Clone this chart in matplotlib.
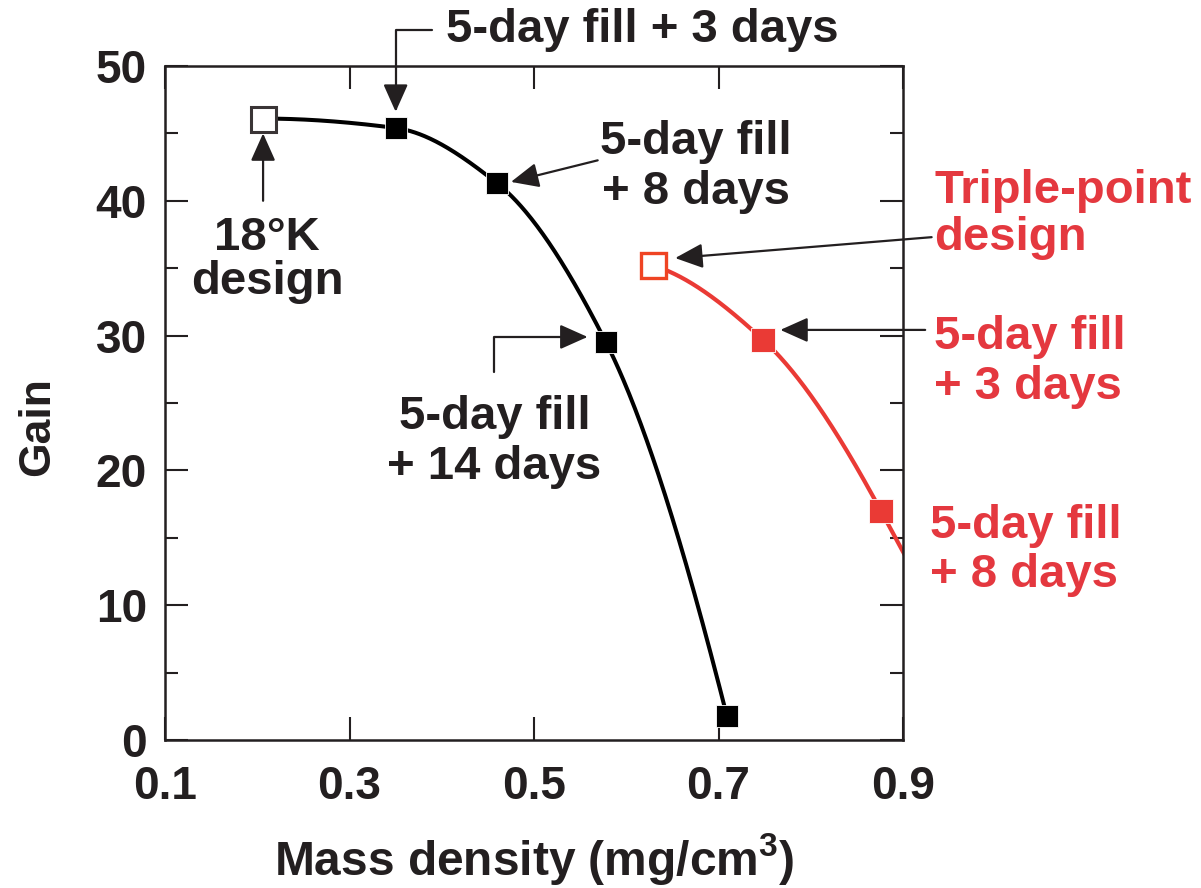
import numpy as np
import matplotlib
matplotlib.use("Agg")
import matplotlib.pyplot as plt

plt.rcParams["font.family"] = ["Liberation Sans", "DejaVu Sans"]
plt.rcParams["font.weight"] = "bold"
plt.rcParams["mathtext.fontset"] = "custom"
plt.rcParams["mathtext.rm"] = "Liberation Sans:bold"
plt.rcParams["mathtext.bf"] = "Liberation Sans:bold"

# --- data -----------------------------------------------------------------
# 18 K (cryogenic) design family
black_density = [0.206, 0.350, 0.460, 0.578, 0.709]
black_gain = [46.1, 45.4, 41.3, 29.5, 1.8]
black_open = [True, False, False, False, False]

# Triple-point design family
red_density = [0.629, 0.748, 0.876]
red_gain = [35.2, 29.7, 17.0]
red_open = [True, False, False]

x_ticks = [0.1, 0.3, 0.5, 0.7, 0.9]
x_tick_labels = ["0.1", "0.3", "0.5", "0.7", "0.9"]
y_ticks = [0, 10, 20, 30, 40, 50]
y_tick_labels = ["0", "10", "20", "30", "40", "50"]

TEXT = "#231f20"
RED = "#ea3a35"
RED_TEXT = "#e4383f"
RED_OPEN = "#ef4423"


def pchip(x, y, xs):
    """Monotone cubic (Fritsch-Carlson) curve through the given points,
    continued along the end tangent past the last point."""
    x = np.asarray(x, float)
    y = np.asarray(y, float)
    h = np.diff(x)
    delta = np.diff(y) / h
    n = len(x)
    d = np.zeros(n)
    for k in range(1, n - 1):
        if delta[k - 1] * delta[k] > 0:
            w1 = 2 * h[k] + h[k - 1]
            w2 = h[k] + 2 * h[k - 1]
            d[k] = (w1 + w2) / (w1 / delta[k - 1] + w2 / delta[k])

    def end_slope(h0, h1, d0, d1):
        s = ((2 * h0 + h1) * d0 - h0 * d1) / (h0 + h1)
        if np.sign(s) != np.sign(d0):
            return 0.0
        if np.sign(d0) != np.sign(d1) and abs(s) > abs(3 * d0):
            return 3 * d0
        return s

    d[0] = end_slope(h[0], h[1], delta[0], delta[1])
    d[-1] = end_slope(h[-1], h[-2], delta[-1], delta[-2])

    out = np.empty_like(xs)
    for i, xv in enumerate(xs):
        if xv >= x[-1]:
            out[i] = y[-1] + d[-1] * (xv - x[-1])
            continue
        k = min(max(np.searchsorted(x, xv) - 1, 0), n - 2)
        t = (xv - x[k]) / h[k]
        h00 = 2 * t**3 - 3 * t**2 + 1
        h10 = t**3 - 2 * t**2 + t
        h01 = -2 * t**3 + 3 * t**2
        h11 = t**3 - t**2
        out[i] = (h00 * y[k] + h10 * h[k] * d[k]
                  + h01 * y[k + 1] + h11 * h[k] * d[k + 1])
    return out


fig = plt.figure(figsize=(12.01, 8.88), dpi=100)
ax = fig.add_axes([0.1374, 0.1667, 0.6145, 0.759])

# smooth curves
xs_b = np.linspace(black_density[0], black_density[-1], 400)
ax.plot(xs_b, pchip(black_density, black_gain, xs_b), color="black", lw=2.9,
        solid_capstyle="butt", zorder=2)
xs_r = np.linspace(red_density[0], 0.92, 400)
ax.plot(xs_r, pchip(red_density, red_gain, xs_r), color=RED, lw=3.0,
        solid_capstyle="butt", zorder=2)

# markers
for xv, yv, is_open in zip(black_density, black_gain, black_open):
    if is_open:
        ax.plot(xv, yv, "s", ms=18, mfc="white", mec="#3a3536", mew=2.2, zorder=4)
    else:
        ax.plot(xv, yv, "s", ms=16, mfc="black", mec="white", mew=0.6, zorder=4)
for xv, yv, is_open in zip(red_density, red_gain, red_open):
    if is_open:
        ax.plot(xv, yv, "s", ms=18, mfc="white", mec=RED_OPEN, mew=2.4, zorder=4)
    else:
        ax.plot(xv, yv, "s", ms=17, mfc=RED, mec="white", mew=0.6, zorder=4)

# axes styling
ax.set_xlim(0.1, 0.9)
ax.set_ylim(0, 50)
ax.set_xticks(x_ticks)
ax.set_xticklabels(x_tick_labels)
ax.set_yticks(y_ticks)
ax.set_yticklabels(y_tick_labels)
ax.set_yticks(np.arange(5, 50, 10), minor=True)
for s in ax.spines.values():
    s.set_linewidth(1.8)
    s.set_color(TEXT)
ax.tick_params(which="major", direction="in", length=16.5, width=1.5,
               top=True, right=True, colors=TEXT, labelsize=33)
ax.tick_params(which="minor", direction="in", length=9.4, width=1.5,
               left=True, right=True, colors=TEXT)
ax.tick_params(axis="x", which="major", pad=18)
ax.tick_params(axis="y", which="major", pad=13)
for lab in ax.get_xticklabels() + ax.get_yticklabels():
    lab.set_fontweight("bold")

ax.set_xlabel("Mass density (mg/cm$^{3}$)", fontsize=34.5, fontweight="bold",
              color=TEXT, labelpad=16)
ax.set_ylabel("Gain", fontsize=32, fontweight="bold", color=TEXT)
ax.yaxis.set_label_coords(-0.145, 0.465)

# annotations
fs = 34
ls = 1.17
arrow_kw = dict(arrowstyle="-|>,head_length=0.85,head_width=0.38",
                color=TEXT, lw=1.6, shrinkA=0, shrinkB=0, mutation_scale=20)


def arrow(start, end, conn="arc3"):
    ax.annotate("", xy=end, xytext=start, xycoords="data", textcoords="data",
                arrowprops=dict(connectionstyle=conn, **arrow_kw),
                annotation_clip=False)


ax.text(0.617, 52.7, "5-day fill + 3 days", fontsize=fs, fontweight="bold",
        color=TEXT, ha="center", va="center", clip_on=False)
arrow((0.389, 52.7), (0.350, 46.6), "angle,angleA=0,angleB=90,rad=0")

ax.text(0.6755, 42.5, "5-day fill\n+ 8 days", fontsize=fs, fontweight="bold",
        color=TEXT, ha="center", va="center", linespacing=ls)
arrow((0.569, 43.0), (0.475, 41.4))

ax.text(0.2106, 35.6, "18°K\ndesign", fontsize=fs, fontweight="bold",
        color=TEXT, ha="center", va="center", linespacing=0.98)
arrow((0.2063, 40.0), (0.2063, 45.0))

ax.text(0.457, 22.1, "5-day fill\n+ 14 days", fontsize=fs, fontweight="bold",
        color=TEXT, ha="center", va="center", linespacing=ls)
arrow((0.4568, 27.3), (0.558, 29.9), "angle,angleA=90,angleB=0,rad=0")

ax.text(0.934, 39.0, "Triple-point\ndesign", fontsize=fs, fontweight="bold",
        color=RED_TEXT, ha="left", va="center", linespacing=1.08,
        clip_on=False)
arrow((0.931, 37.3), (0.653, 35.75))

ax.text(0.934, 28.05, "5-day fill\n+ 3 days", fontsize=fs, fontweight="bold",
        color=RED_TEXT, ha="left", va="center", linespacing=ls,
        clip_on=False)
arrow((0.924, 30.42), (0.767, 30.42))

ax.text(0.929, 14.05, "5-day fill\n+ 8 days", fontsize=fs, fontweight="bold",
        color=RED_TEXT, ha="left", va="center", linespacing=ls,
        clip_on=False)

fig.savefig("out.png", dpi=100, facecolor="white")
